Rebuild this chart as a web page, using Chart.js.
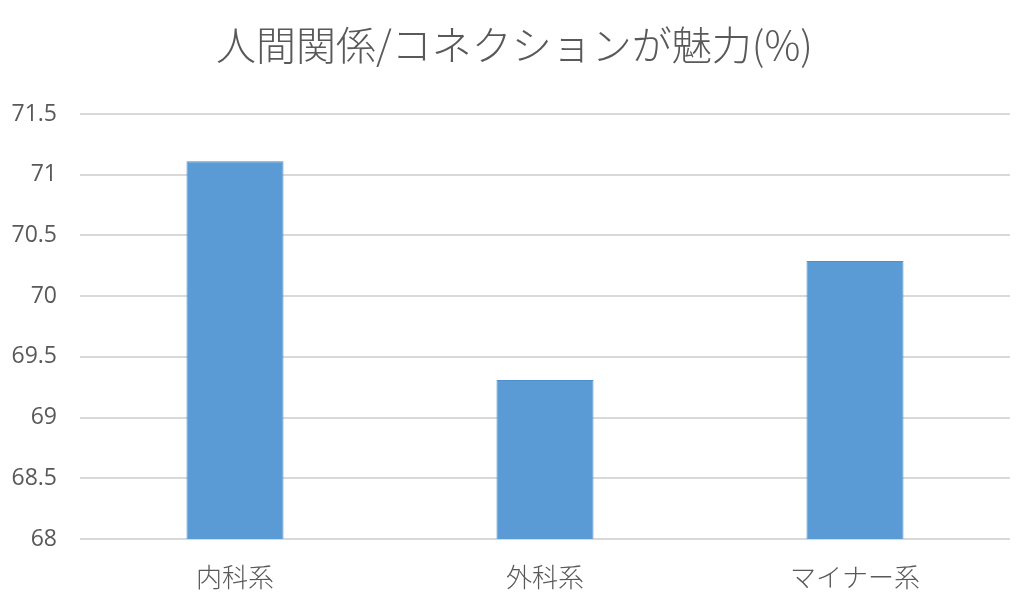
<!DOCTYPE html>
<html><head><meta charset="utf-8">
<script src="https://cdn.jsdelivr.net/npm/chart.js@4/dist/chart.umd.min.js"></script>
<style>html,body{margin:0;padding:0;background:#fff}#wrap{width:1029px;height:612px}</style>
</head><body><div id="wrap"><canvas id="c" width="1029" height="612"></canvas></div>
<script>
const categories = ["内科系", "外科系", "マイナー系"];
const values = [71.11, 69.31, 70.29];
const yMin = 68, yMax = 71.5, yStep = 0.5;
const titleText = "人間関係/コネクションが魅力(%)";

new Chart(document.getElementById('c'), {
  type: 'bar',
  data: { labels: categories, datasets: [{ data: values, backgroundColor: '#5B9BD5', borderColor: '#4E8FCB', borderWidth: 1, barPercentage: 0.313, categoryPercentage: 1 }] },
  options: {
    responsive: false, animation: false, devicePixelRatio: 1,
    layout: { padding: { left: 0, right: 0, top: 0, bottom: 0 } },
    plugins: {
      legend: { display: false }, tooltip: { enabled: false },
      title: { display: true, text: titleText, color: '#595959', font: { family: "'Noto Sans CJK JP', 'Noto Sans', sans-serif", size: 40, weight: 300 }, padding: { top: 21, bottom: 45 } }
    },
    scales: {
      x: { grid: { display: false, drawTicks: false }, border: { display: false },
           ticks: { color: '#595959', padding: 23, font: { family: "'Noto Sans CJK JP', sans-serif", size: 26, weight: 300 } },
           afterFit: s => { s.height = 73; } },
      y: { min: yMin, max: yMax, grid: { color: '#D9D9D9', lineWidth: 2, drawTicks: false }, border: { display: false },
           ticks: { stepSize: yStep, color: '#595959', padding: 23, font: { family: "'Open Sans', 'Noto Sans', sans-serif", size: 23 },
                    callback: v => String(v) },
           afterFit: s => { s.width = 80; } },
      yRight: { position: 'right', min: yMin, max: yMax, grid: { display: false, drawTicks: false }, border: { display: false },
           ticks: { display: false }, afterFit: s => { s.width = 19; } }
    }
  }
});
</script></body></html>
